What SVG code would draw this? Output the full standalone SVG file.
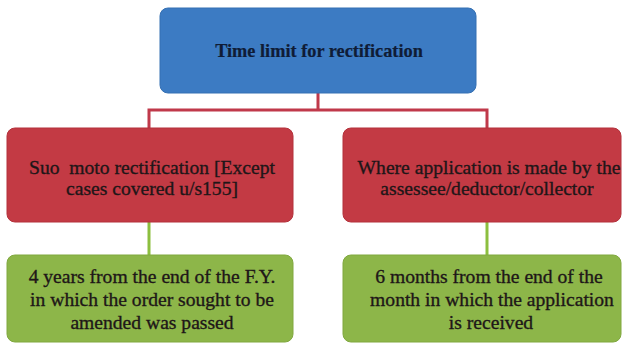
<svg xmlns="http://www.w3.org/2000/svg" width="623" height="346" viewBox="0 0 623 346">
<style>
.t{fill:#1e1618;stroke:#1e1618;stroke-width:0.35;text-anchor:middle;white-space:pre}
.tt{fill:#0f1c36;stroke:#0f1c36;stroke-width:0.2;text-anchor:middle}
.top{fill:#3c7bc3;stroke:#3570b3;stroke-width:1}
.red{fill:#c33a44;stroke:#b4313b;stroke-width:1}
.grn{fill:#8db649;stroke:#80a83f;stroke-width:1}
.cr{fill:none;stroke:#c0394a;stroke-width:3}
.cg{fill:none;stroke:#8cbf3f;stroke-width:3}
</style>
<rect width="623" height="346" fill="#ffffff"/>
<g id="connectors">
<path class="cr" d="M318 93 V110 H149 V128 M318 110 H487 V128"/>
<path class="cg" d="M149 222 V255"/>
<path class="cg" d="M487 222 V255"/>
</g>
<g font-family="'Liberation Serif', 'DejaVu Serif', serif">
<g id="top">
<rect class="top" x="160" y="8" width="316" height="85" rx="8"/>
<text class="tt" x="319" y="57" font-size="18.3" font-weight="bold">Time limit for rectification</text>
</g>
<g id="left">
<rect class="red" x="7" y="128" width="286" height="94" rx="8"/>
<text class="t" font-size="19.6" xml:space="preserve"><tspan x="152" y="174">Suo  moto rectification [Except</tspan><tspan x="152" y="195">cases covered u/s155]</tspan></text>
</g>
<g id="right">
<rect class="red" x="343" y="128" width="278" height="94" rx="8"/>
<text class="t" font-size="19.6"><tspan x="489" y="174">Where application is made by the</tspan><tspan x="487" y="195">assessee/deductor/collector</tspan></text>
</g>
<g id="left-bottom">
<rect class="grn" x="7" y="255" width="286" height="87" rx="8"/>
<text class="t" font-size="19.6"><tspan x="152" y="283">4 years from the end of the F.Y.</tspan><tspan x="152" y="306">in which the order sought to be</tspan><tspan x="152" y="329">amended was passed</tspan></text>
</g>
<g id="right-bottom">
<rect class="grn" x="343" y="255" width="278" height="87" rx="8"/>
<text class="t" font-size="19.6"><tspan x="489" y="283">6 months from the end of the</tspan><tspan x="492" y="306">month in which the application</tspan><tspan x="491" y="329">is received</tspan></text>
</g>
</g>
</svg>
